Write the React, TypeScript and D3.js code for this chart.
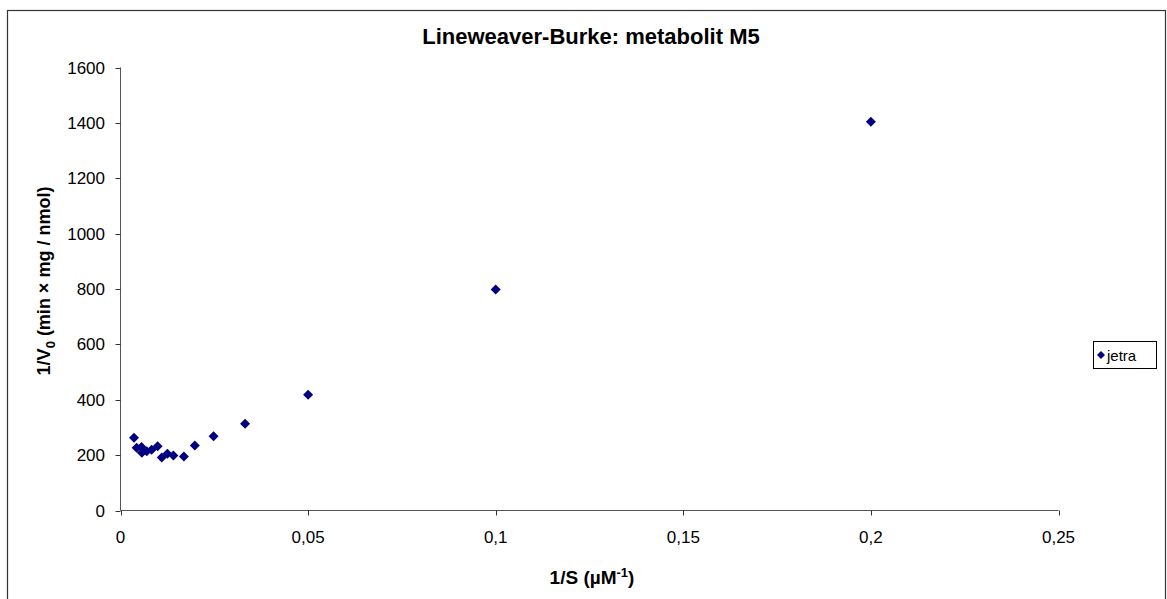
import React from "react";
import * as d3 from "d3";

const xValues = [0.0036, 0.0043, 0.0056, 0.0057, 0.0070, 0.0083, 0.0099, 0.0110, 0.0125, 0.0141, 0.0169, 0.0198, 0.0248, 0.0332, 0.05, 0.1, 0.2];
const yValues = [263, 227, 229, 209, 214, 219, 232, 191, 205, 199, 195, 235, 268, 313, 418, 798, 1404];
const xTicks = [0, 0.05, 0.1, 0.15, 0.2, 0.25];
const yTicks = [0, 200, 400, 600, 800, 1000, 1200, 1400, 1600];
const seriesName = "jetra";
const title = "Lineweaver-Burke: metabolit M5";

const W = 1167;
const H = 599;
const plot = { left: 120.5, right: 1058.5, top: 67.5, bottom: 510.5 };
const font = "Arial, 'Liberation Sans', sans-serif";
const navy = "#000080";

const fmt = (v: number) => String(v).replace(".", ",");

function Diamond({ x, y, r }: { x: number; y: number; r: number }) {
  return <path d={`M${x},${y - r}L${x + r},${y}L${x},${y + r}L${x - r},${y}Z`} fill={navy} />;
}

export default function App() {
  const x = d3.scaleLinear().domain([0, 0.25]).range([plot.left, plot.right]);
  const y = d3.scaleLinear().domain([0, 1600]).range([plot.bottom, plot.top]);
  const pts = xValues.map((v, i) => ({ x: v, y: yValues[i] }));
  return (
    <svg width={W} height={H} style={{ position: "absolute", left: 0, top: 0 }} fontFamily={font}>
      <rect x={0} y={0} width={W} height={H} fill="#fff" />
      <rect x={7.5} y={10.5} width={1158} height={600} fill="none" stroke="#333" strokeWidth={1.2} />
      <text x={591} y={44} textAnchor="middle" fontWeight="bold" fontSize={22}>{title}</text>
      {/* axes */}
      <line x1={plot.left} x2={plot.left} y1={plot.top} y2={plot.bottom} stroke="#555" />
      <line x1={plot.left} x2={plot.right} y1={plot.bottom} y2={plot.bottom} stroke="#555" />
      {yTicks.map((t) => (
        <g key={"y" + t}>
          <line x1={plot.left - 5} x2={plot.left} y1={Math.round(y(t)) + 0.5} y2={Math.round(y(t)) + 0.5} stroke="#333" />
          <text x={105} y={y(t) + 6} textAnchor="end" fontSize={17}>{t}</text>
        </g>
      ))}
      {xTicks.map((t) => (
        <g key={"x" + t}>
          <line x1={Math.round(x(t)) + 0.5} x2={Math.round(x(t)) + 0.5} y1={plot.bottom} y2={plot.bottom + 5} stroke="#333" />
          <text x={x(t)} y={543} textAnchor="middle" fontSize={17}>{fmt(t)}</text>
        </g>
      ))}
      {/* axis titles */}
      <text x={592} y={584} textAnchor="middle" fontWeight="bold" fontSize={19}>
        1/S (µM<tspan dy={-7} fontSize={13}>-1</tspan><tspan dy={7}>)</tspan>
      </text>
      <text transform={`translate(50,${(plot.top + plot.bottom) / 2 - 8}) rotate(-90)`} textAnchor="middle" fontWeight="bold" fontSize={18}>
        1/V<tspan dy={5} fontSize={13}>0</tspan><tspan dy={-5}> (min × mg / nmol)</tspan>
      </text>
      {/* points */}
      {pts.map((p, i) => (
        <Diamond key={i} x={x(p.x)} y={y(p.y)} r={5} />
      ))}
      {/* legend */}
      <rect x={1093.5} y={341.5} width={63} height={27} fill="#fff" stroke="#000" />
      <Diamond x={1101} y={355} r={4} />
      <text x={1107} y={360.5} fontSize={15}>{seriesName}</text>
    </svg>
  );
}
